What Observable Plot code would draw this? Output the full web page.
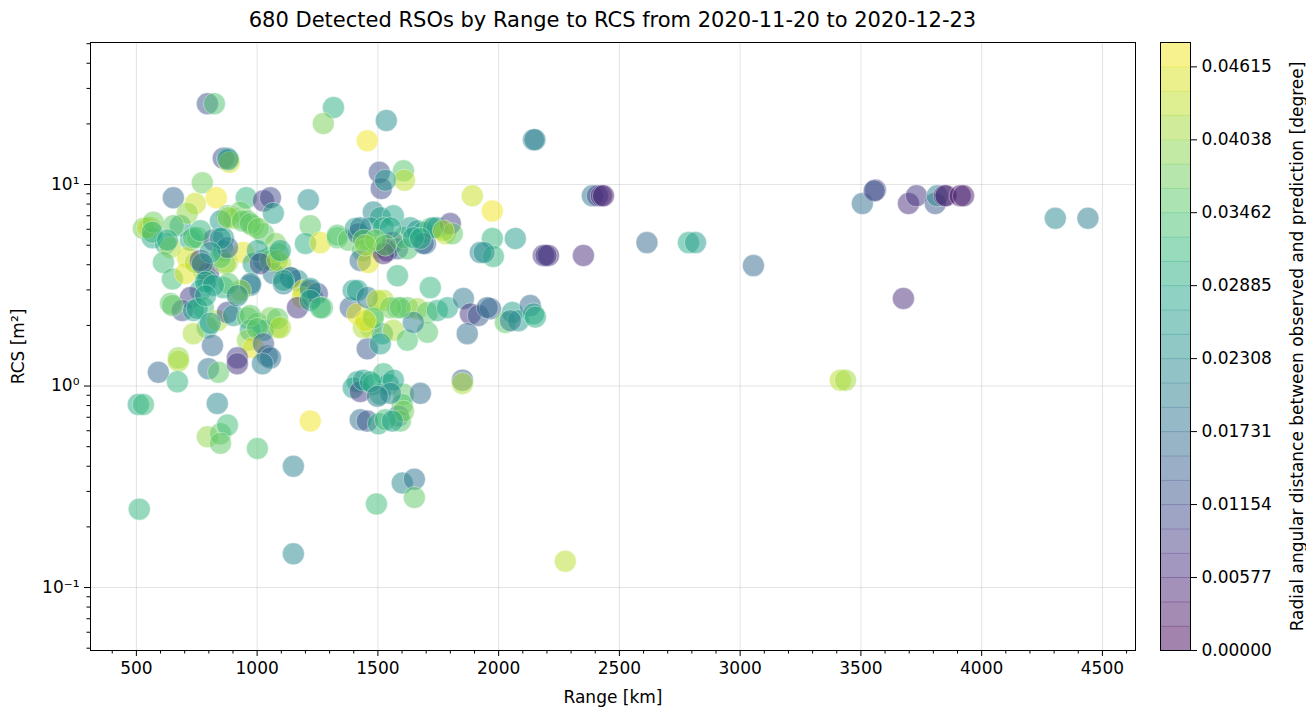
<!DOCTYPE html>
<html><head><meta charset="utf-8">
<script src="https://cdn.jsdelivr.net/npm/d3@7"></script>
<script src="https://cdn.jsdelivr.net/npm/@observablehq/plot@0.6"></script>
<style>
body{margin:0;background:#fff;font-family:"DejaVu Sans",sans-serif;}
#wrap{position:relative;width:1306px;height:709px;overflow:hidden;background:#fff}
#title{position:absolute;left:90px;width:1045px;top:8px;line-height:24px;text-align:center;font-size:21px;color:#000;font-family:"DejaVu Sans"}
#main{position:absolute;left:0;top:0}
#cbar{position:absolute;left:1150px;top:0}
</style></head><body>
<div id="wrap">
<div id="title"></div>
<div id="main"></div><div id="cbar"></div>
</div>
<script>
const titleText = "680 Detected RSOs by Range to RCS from 2020-11-20 to 2020-12-23";
const xLabel = "Range [km]";
const yLabel = "RCS [m²]";
const cLabel = "Radial angular distance between observed and prediction [degree]";
const xTicks = [500,1000,1500,2000,2500,3000,3500,4000,4500];
const yTicks = [0.1, 1, 10];
const yTickLabels = ["10⁻¹", "10⁰", "10¹"];
const cTicks = [0, 0.00577, 0.01154, 0.01731, 0.02308, 0.02885, 0.03462, 0.04038, 0.04615];
const cMax = 0.048077;
const cBands = 25;

const rangeKm = [
 // top / outliers
 794,823,1316,1274,1535,1456,2144,2150,860,877,885,880,773,653,744,831,955,1026,1055,1067,1212,1506,1606,1610,1514,1531,1891,1974,
 // far right
 2388,2409,2425,2434,3506,3560,3555,3697,3730,3808,3816,3845,3852,3911,3925,4305,4440,2614,2786,2815,3055,3676,3415,3436,2276,2069,1974,1924,1978,1940,2185,2206,2351,2196,
 // left cluster upper
 558,529,566,682,711,653,620,641,724,752,612,711,649,703,777,798,794,819,860,877,902,931,960,984,1026,1076,860,877,943,984,1026,1055,1088,1096,1138,1167,1067,972,918,860,765,
 545,570,566,736,765,629,744,765,848,881,939,972,1005,868,848,877,848,806,773,786,1001,1055,1013,1084,1096,1138,1109,1191,1220,972,931,881,819,724,1220,1200,1262,1332,1109,
 // left cluster lower
 777,641,690,736,794,835,877,902,960,1001,1055,1084,1026,972,960,984,1042,918,815,736,674,1187,1167,1229,1249,1270,1220,649,752,786,806,918,972,1001,1026,1055,1022,1084,1096,1220,1262,
 674,591,670,798,840,918,508,529,835,794,848,877,848,1001,1220,512,1150,1150,
 // middle upper
 1332,1378,1407,1419,1481,1510,1564,1469,1523,1469,1498,1436,1427,1460,1539,1560,1581,1606,1622,1634,1663,1697,1688,1717,1746,1779,1800,1808,1581,1717,1427,1440,1552,1523,1730,1771,1688,1490,1531,1448,1647,1676,
 // middle lower
 1386,1415,1481,1523,1581,1622,1663,1705,1746,1788,1854,1883,1916,1966,1953,2028,2057,2082,2131,2144,2152,2049,1870,1469,1518,1564,1622,1705,1647,1456,1510,1398,1415,1456,1498,1552,1593,1440,1481,1448,
 // around 1 m2
 1415,1398,1427,1440,1481,1523,1543,1510,1606,1601,1676,1850,1850,1427,1456,1502,1585,1593,1606,1494,1601,1651,1651,1469,1564,1552,1498,1531,1560
];
const rcs = [
 25.2,25.2,24.1,20.1,20.8,16.5,16.7,16.7,13.5,13.5,12.9,13.3,10.2,8.6,8.05,8.6,8.6,8.3,8.6,7.2,8.4,11.5,11.7,10.5,9.55,10.5,8.8,7.4,
 8.8,8.8,8.8,8.8,8.05,9.4,9.3,8.05,8.8,8.05,8.8,8.8,8.8,8.8,8.8,6.8,6.8,5.15,5.15,5.15,3.96,2.72,1.07,1.07,0.135,5.4,5.4,4.6,4.4,4.6,4.45,4.45,4.45,4.45,
 6.1,6.05,5.45,6.25,7.2,6.25,5.1,4.87,5.3,5.45,4.1,4.35,3.4,3.62,3.74,3.62,3.34,5.3,5.45,7.0,6.8,7.3,6.6,6.25,5.7,5.1,4.7,4.1,4.6,4.05,4.2,4.35,4.55,4.05,3.45,3.34,3.62,3.16,2.88,3.08,2.98,
 6.1,6.5,5.8,5.45,5.9,5.3,4.1,4.2,6.6,6.85,6.6,6.4,6.05,4.05,4.35,4.87,5.4,4.6,4.05,3.28,4.7,4.2,4.05,4.2,4.7,3.45,3.22,2.98,2.98,3.22,2.98,3.22,3.16,2.75,6.25,5.1,5.15,5.45,3.34,
 2.45,2.57,2.37,2.37,1.95,2.11,2.32,2.24,2.18,2.05,2.18,1.95,1.89,1.89,1.69,1.55,1.41,1.38,1.59,1.82,1.38,2.75,2.45,2.75,2.88,2.45,3.05,2.51,2.42,2.81,2.05,2.81,2.24,1.93,1.62,1.38,1.29,2.16,1.95,2.66,2.45,
 1.33,1.17,1.05,1.22,1.17,1.29,0.81,0.81,0.82,0.56,0.58,0.64,0.52,0.49,0.67,0.245,0.40,0.147,
 5.6,5.3,6.05,5.7,7.3,6.85,7.0,6.1,6.1,5.1,4.87,4.7,4.2,4.1,4.7,5.15,4.8,5.45,4.8,6.1,5.9,5.1,5.8,6.05,6.1,5.7,6.4,5.7,3.53,3.08,6.1,5.3,6.1,4.55,6.1,5.9,5.1,5.3,5.0,5.0,5.45,5.4,
 2.45,2.28,2.24,2.66,2.45,2.45,2.42,2.32,2.37,2.45,2.72,2.28,2.24,2.42,2.45,2.07,2.32,2.11,2.51,2.28,2.2,2.11,1.82,1.95,1.82,1.89,1.69,1.85,2.07,1.53,1.62,2.98,2.98,2.75,2.66,2.45,2.45,1.95,2.18,2.11,
 1.05,0.98,0.94,1.07,1.02,1.15,1.02,0.91,0.91,0.81,0.92,1.07,1.03,0.68,0.67,0.65,0.71,0.67,0.75,0.26,0.33,0.345,0.28,1.05,1.07,0.92,0.89,0.68,0.67
];
const angDist = [
 .012,.034,.030,.038,.023,.047,.019,.021,.010,.022,.045,.026,.037,.016,.044,.047,.031,.008,.011,.027,.024,.011,.035,.043,.011,.026,.044,.047,
 .018,.010,.006,.004,.017,.009,.012,.006,.007,.013,.021,.005,.004,.003,.004,.022,.020,.016,.029,.026,.016,.006,.043,.041,.043,.026,.031,.021,.031,.024,.006,.004,.006,.009,
 .042,.037,.029,.027,.040,.036,.030,.042,.028,.036,.033,.045,.033,.046,.042,.008,.027,.009,.026,.036,.040,.037,.036,.038,.035,.038,.026,.042,.046,.027,.028,.034,.036,.042,.028,.023,.020,.020,.040,.030,.028,
 .044,.037,.031,.035,.031,.029,.042,.008,.026,.040,.036,.036,.037,.040,.035,.016,.026,.027,.021,.028,.027,.036,.010,.042,.027,.015,.020,.046,.010,.020,.040,.035,.027,.008,.036,.030,.046,.035,.028,
 .033,.036,.012,.028,.030,.042,.010,.026,.036,.036,.038,.042,.028,.027,.040,.046,.018,.008,.016,.042,.040,.044,.007,.026,.011,.034,.026,.036,.028,.028,.026,.022,.036,.036,.013,.017,.020,.036,.042,.026,.033,
 .042,.016,.031,.018,.036,.007,.029,.032,.022,.040,.036,.033,.036,.034,.047,.031,.021,.022,
 .035,.036,.027,.015,.022,.027,.028,.026,.030,.036,.038,.035,.016,.046,.006,.007,.016,.034,.034,.026,.025,.016,.027,.035,.027,.044,.009,.036,.031,.031,.020,.036,.028,.006,.026,.042,.016,.037,.036,.040,.028,.030,
 .014,.046,.037,.043,.036,.036,.041,.036,.030,.029,.019,.007,.013,.014,.016,.036,.027,.026,.016,.028,.030,.020,.017,.042,.027,.042,.034,.035,.020,.013,.027,.026,.027,.019,.043,.037,.036,.042,.035,.046,
 .027,.027,.008,.026,.029,.031,.027,.031,.036,.034,.017,.015,.042,.017,.012,.030,.020,.035,.038,.033,.022,.018,.036,.030,.028,.022,.020,.033,.027
];

document.getElementById("title").textContent = titleText;
const points = rangeKm.map((x, i) => ({x, y: rcs[i], c: angDist[i]}));
const xMinor = d3.range(400, 4700, 100).filter(v => v % 500 !== 0);
const yMinor = [];
for (const e of [-2, -1, 0, 1]) for (let k = 2; k <= 9; k++) {
  const v = k * Math.pow(10, e);
  if (v > 0.0487 && v < 50.7) yMinor.push(v);
}
const FS = 17;
const font = {fontFamily: "DejaVu Sans", fontSize: FS + "px", color: "#000", background: "transparent", overflow: "visible"};

const main = Plot.plot({
  width: 1145, height: 709,
  marginLeft: 90, marginRight: 10, marginTop: 42, marginBottom: 59,
  style: font,
  x: {domain: [310, 4637]},
  y: {type: "log", domain: [0.0487, 50.7]},
  color: {type: "linear", scheme: "viridis", domain: [0, cMax]},
  marks: [
    Plot.gridX(xTicks, {stroke: "#b0b0b0", strokeOpacity: 0.35, strokeWidth: 1}),
    Plot.gridY(yTicks, {stroke: "#b0b0b0", strokeOpacity: 0.35, strokeWidth: 1}),
    Plot.dot(points, {x: "x", y: "y", fill: "c", r: 11, fillOpacity: 0.5, stroke: "white", strokeWidth: 0.8, strokeOpacity: 0.5}),
    Plot.axisX(xTicks, {tickSize: 6, tickPadding: 5, label: null, fontSize: FS, tickFormat: d => String(d)}),
    Plot.axisX(xMinor, {tickSize: 3.5, tickFormat: () => "", label: null}),
    Plot.axisY(yTicks, {tickSize: 6, tickPadding: 5, label: null, fontSize: FS, tickFormat: d => yTickLabels[yTicks.indexOf(d)]}),
    Plot.axisY(yMinor, {tickSize: 3.5, tickFormat: () => "", label: null}),
    Plot.frame({stroke: "#000", strokeWidth: 1}),
    Plot.text([xLabel], {text: d => d, frameAnchor: "bottom", textAnchor: "middle", lineAnchor: "middle", dy: 47, fontSize: FS}),
    Plot.text([yLabel], {text: d => d, frameAnchor: "left", textAnchor: "middle", lineAnchor: "middle", dx: -72, rotate: -90, fontSize: FS})
  ]
});
document.getElementById("main").append(main);

const bands = d3.range(cBands).map(i => ({y1: i * cMax / cBands, y2: (i + 1) * cMax / cBands, c: (i + 0.5) * cMax / cBands}));
const edges = d3.range(1, cBands).map(i => i * cMax / cBands);
const cbar = Plot.plot({
  width: 156, height: 709,
  marginLeft: 10, marginRight: 116, marginTop: 42, marginBottom: 59,
  style: font,
  x: {domain: [0, 1], axis: null},
  y: {domain: [0, cMax], axis: null},
  color: {type: "linear", scheme: "viridis", domain: [0, cMax]},
  marks: [
    Plot.rectY(bands, {x1: 0, x2: 1, y1: "y1", y2: "y2", fill: "c", fillOpacity: 0.5, inset: 0}),
    Plot.ruleY(edges, {stroke: d => d, strokeOpacity: 0.35, strokeWidth: 1}),
    Plot.axisY(cTicks, {anchor: "right", tickSize: 6, tickPadding: 5, label: null, fontSize: FS, tickFormat: d3.format(".5f")}),
    Plot.frame({stroke: "#000", strokeWidth: 1}),
    Plot.text([cLabel], {text: d => d, frameAnchor: "right", textAnchor: "middle", lineAnchor: "middle", dx: 107, rotate: -90, fontSize: FS})
  ]
});
document.getElementById("cbar").append(cbar);
</script>
</body></html>
